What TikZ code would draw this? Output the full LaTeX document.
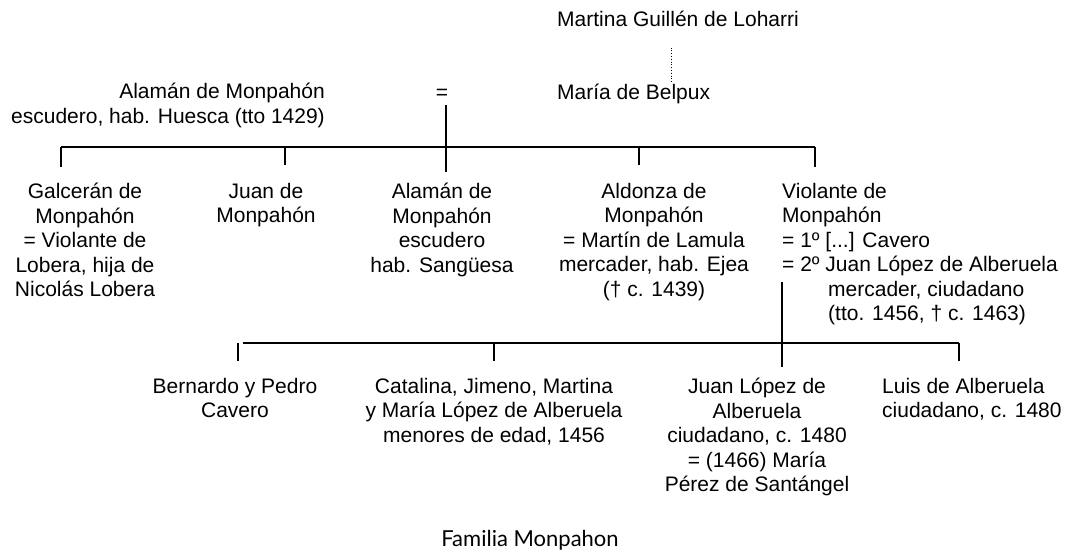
\documentclass[tikz,border=0pt]{standalone}
\usepackage{fontspec}
\setmainfont{Liberation Sans}
\newfontfamily\titlefont{Lato}

\begin{document}
\begin{tikzpicture}[x=1pt, y=-1pt,
  person/.style={inner sep=0pt, anchor=north, align=center, font=\fontsize{21}{24.5}\selectfont, execute at begin node=\strut},
  line/.style={line width=1.3pt}]
\useasboundingbox (0,0) rectangle (1065,556);
% parents
\node[person, anchor=base west] (martina) at (557,27) {Martina Guillén de Loharri};
\node[person, anchor=base west] (maria) at (557,100) {María de Belpux};
\node[person, anchor=north east, align=right] (alaman) at (325,83) {Alamán de Monpahón\\escudero, hab. Huesca (tto 1429)};
\node[person, anchor=base] (eq) at (442,100) {=};
\coordinate (dot) at (671,0);
\draw[dotted, line width=0.8pt] (martina.south -| dot) ++(0,13) -- (maria.north -| dot);
% children
\node[person] (galceran) at (85,183) {Galcerán de\\Monpahón\\= Violante de\\Lobera, hija de\\Nicolás Lobera};
\node[person] (juan) at (266,183) {Juan de\\Monpahón};
\node[person] (alamanjr) at (442,183) {Alamán de\\Monpahón\\escudero\\hab. Sangüesa};
\node[person] (aldonza) at (654,183) {Aldonza de\\Monpahón\\= Martín de Lamula\\mercader, hab. Ejea\\(† c. 1439)};
\node[person, anchor=north west, align=left] (violante) at (782,183) {Violante de\\Monpahón\\= 1º [...] Cavero\\= 2º Juan López de Alberuela\\\hspace*{46pt}mercader, ciudadano\\\hspace*{46pt}(tto. 1456, † c. 1463)};
% grandchildren
\node[person] (bernardo) at (235,378) {Bernardo y Pedro\\Cavero};
\node[person] (catalina) at (494,378) {Catalina, Jimeno, Martina\\y María López de Alberuela\\menores de edad, 1456};
\node[person] (juanlopez) at (757,378) {Juan López de\\Alberuela\\ciudadano, c. 1480\\= (1466) María\\Pérez de Santángel};
\node[person, anchor=north west, align=left] (luis) at (882,378) {Luis de Alberuela\\ciudadano, c. 1480};
\node[font=\titlefont\fontsize{22}{24}\selectfont, inner sep=0pt] (title) at (530,540) {Familia Monpahon};
% lines
\coordinate (bar) at (0,147);
\coordinate (sub) at (0,343);
\coordinate (galT) at (61,167);
\coordinate (juanT) at (285,165);
\coordinate (alamanT) at (446,172);
\coordinate (aldonzaT) at (639,165);
\coordinate (violanteT) at (815,167);
\draw[line] (galT |- bar) -- (violanteT |- bar);
\draw[line] (446,105) -- (alamanT);
\foreach \c in {galT, juanT, aldonzaT, violanteT}
  \draw[line] (\c |- bar) -- (\c);
\coordinate (bernardoT) at (238,361);
\coordinate (catalinaT) at (494,361);
\coordinate (juanlopezT) at (782,367);
\coordinate (luisT) at (959,361);
\draw[line] (243,343) -- (luisT |- sub);
\draw[line] (782,282) -- (juanlopezT);
\foreach \c in {bernardoT, catalinaT, luisT}
  \draw[line] (\c |- sub) -- (\c);
\end{tikzpicture}
\end{document}
